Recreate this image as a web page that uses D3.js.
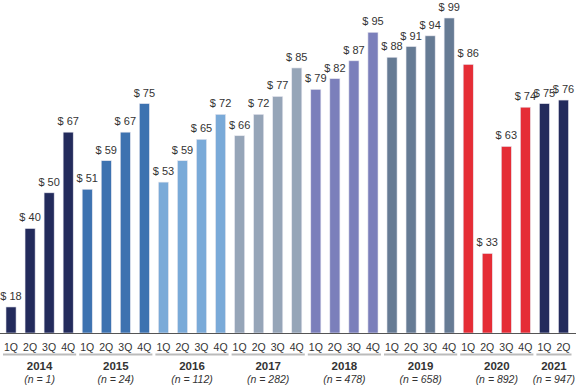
<!DOCTYPE html>
<html>
<head>
<meta charset="utf-8">
<script src="https://cdn.jsdelivr.net/npm/d3@7"></script>
<style>
  body { margin: 0; background: #fff; }
  svg { font-family: "Liberation Sans", Arial, sans-serif; }
</style>
</head>
<body>
<div id="chart"></div>
<script>
// data
var years = ["2014", "2015", "2016", "2017", "2018", "2019", "2020", "2021"];
var counts = ["n = 1", "n = 24", "n = 112", "n = 282", "n = 478", "n = 658", "n = 892", "n = 947"];
var quarters = ["1Q", "2Q", "3Q", "4Q"];
var values = [
    [18, 40, 50, 67],
    [51, 59, 67, 75],
    [53, 59, 65, 72],
    [66, 72, 77, 85],
    [79, 82, 87, 95],
    [88, 91, 94, 99],
    [86, 33, 63, 74],
    [75, 76]
];
var colors = ["#232b5c", "#3d72b0", "#7aaad8", "#96a5b8", "#7b7fbb", "#667b94", "#e52d36", "#232b5c"];

var width = 576, height = 385;
var base_y = 333;

// flatten into one row per bar
var bars = [];
years.forEach(function(yr, gi) {
    values[gi].forEach(function(v, qi) {
	bars.push({year: yr, g: gi, q: quarters[qi], value: v, id: bars.length});
    });
});

var svg = d3.select("#chart").append("svg")
    .attr("width", width)
    .attr("height", height);

var x = d3.scaleBand()
    .domain(bars.map(function(d) { return d.id; }))
    .range([1.5, 573])
    .paddingInner(0.47)
    .paddingOuter(0.235);

var y = d3.scaleLinear()
    .domain([10.7, 99])
    .range([base_y, 18]);

// bars
svg.append("g")
    .selectAll("rect")
    .data(bars)
    .join("rect")
    .attr("x", function(d) { return x(d.id); })
    .attr("y", function(d) { return y(d.value); })
    .attr("width", x.bandwidth())
    .attr("height", function(d) { return base_y - y(d.value); })
    .attr("fill", function(d) { return colors[d.g]; })
    .attr("stroke", "#e8e8f0")
    .attr("stroke-width", 0.6);

// value labels
svg.append("g")
    .selectAll("text")
    .data(bars)
    .join("text")
    .attr("x", function(d) { return x(d.id) + x.bandwidth() / 2; })
    .attr("y", function(d) { return y(d.value) - 7; })
    .attr("text-anchor", "middle")
    .attr("font-size", 11)
    .attr("fill", "#333")
    .text(function(d) { return "$ " + d.value; });

// baseline
svg.append("line")
    .attr("x1", 0)
    .attr("x2", width)
    .attr("y1", base_y + 0.5)
    .attr("y2", base_y + 0.5)
    .attr("stroke", "#555")
    .attr("stroke-width", 1);

// quarter labels
svg.append("g")
    .selectAll("text")
    .data(bars)
    .join("text")
    .attr("x", function(d) { return x(d.id) + x.bandwidth() / 2; })
    .attr("y", 350.5)
    .attr("text-anchor", "middle")
    .attr("font-size", 10.5)
    .attr("fill", "#333")
    .text(function(d) { return d.q; });

// year groups: bracket, year, n
var pad = x.step() * x.paddingOuter();
var groups = years.map(function(yr, gi) {
    var gb = bars.filter(function(d) { return d.g == gi; });
    var first = gb[0], last = gb[gb.length - 1];
    return {year: yr, n: counts[gi],
	    x0: x(first.id) - pad + 1.5,
	    x1: x(last.id) + x.bandwidth() + pad - 1.5};
});

var gg = svg.append("g")
    .selectAll("g")
    .data(groups)
    .join("g");

gg.append("line")
    .attr("x1", function(d) { return d.x0; })
    .attr("x2", function(d) { return Math.min(d.x1, width); })
    .attr("y1", 354.5)
    .attr("y2", 354.5)
    .attr("stroke", "#bbb")
    .attr("stroke-width", 2);

gg.append("text")
    .attr("x", function(d) { return (d.x0 + d.x1) / 2; })
    .attr("y", 369.5)
    .attr("text-anchor", "middle")
    .attr("font-size", 11.5)
    .attr("font-weight", "bold")
    .attr("fill", "#333")
    .text(function(d) { return d.year; });

gg.append("text")
    .attr("x", function(d) { return (d.x0 + d.x1) / 2; })
    .attr("y", 382.5)
    .attr("text-anchor", "middle")
    .attr("font-size", 10.5)
    .attr("font-style", "italic")
    .attr("fill", "#333")
    .text(function(d) { return "(" + d.n + ")"; });
</script>
</body>
</html>
